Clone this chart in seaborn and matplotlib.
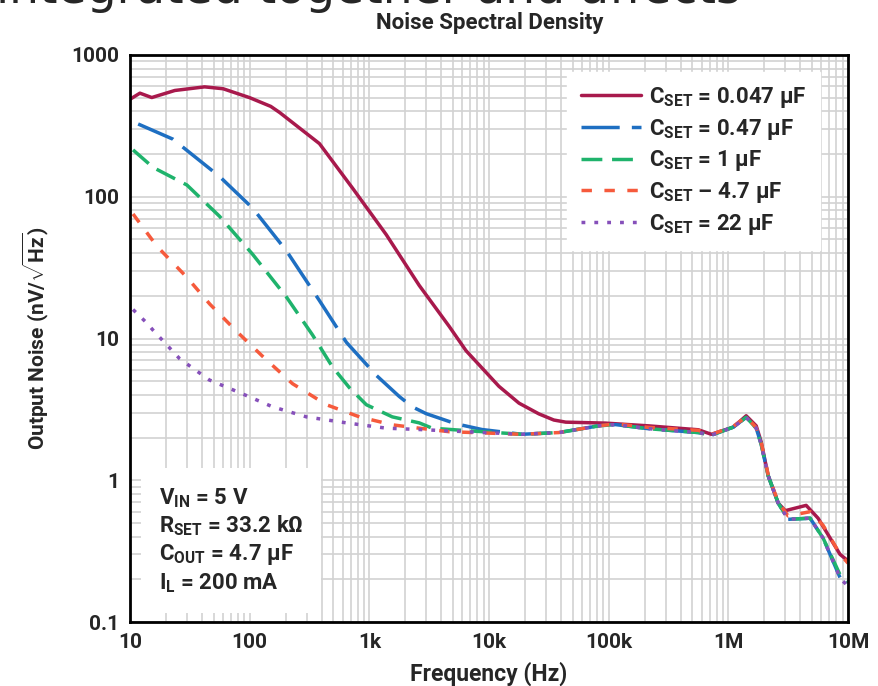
import numpy as np
import pandas as pd
import seaborn as sns
import matplotlib
matplotlib.use('Agg')
import matplotlib.pyplot as plt
from matplotlib.ticker import FixedLocator, LogLocator, NullFormatter

# values (Hz, nV/sqrt(Hz))
f_0047 = [10, 12.1, 15.2, 23.7, 42, 60, 100, 150, 178, 383, 724, 1385, 2610, 4640, 6430,
          12100, 17800, 26100, 34800, 43800, 94000, 215000, 562000, 721000,
          1.1e6, 1.41e6, 1.71e6, 1.88e6, 2.15e6, 2.61e6, 2.99e6, 4.47e6, 5.62e6, 8.58e6, 1e7]
n_0047 = [487, 538, 501, 562, 596, 578, 500, 434, 393, 237, 115, 54, 23.7, 12.2, 8.2,
          4.6, 3.5, 2.94, 2.66, 2.57, 2.53, 2.42, 2.27, 2.11,
          2.37, 2.85, 2.42, 1.87, 1.08, 0.69, 0.61, 0.665, 0.54, 0.30, 0.27]

f_047 = [11.7, 22.8, 56, 106, 203, 383, 643, 1143, 1778, 2280, 2985, 5310, 8740, 18800, 38300,
         82500, 114000, 215000, 562000, 721000,
         1.1e6, 1.41e6, 1.71e6, 1.88e6, 2.15e6, 2.61e6, 3.16e6, 4.82e6, 6.2e6, 8.7e6, 1e7]
n_047 = [326, 255, 139, 83, 41.5, 18.5, 9.4, 5.5, 3.9, 3.3, 2.95, 2.5, 2.28, 2.11, 2.17,
         2.42, 2.47, 2.31, 2.17, 2.08,
         2.37, 2.78, 2.33, 1.8, 1.08, 0.69, 0.53, 0.54, 0.39, 0.2, 0.18]

f_1 = [10.6, 15.6, 29.9, 56, 106, 203, 335, 492, 681, 944, 1556, 2610, 3350, 6430, 18800, 38300,
       82500, 114000, 215000, 562000, 721000,
       1.1e6, 1.41e6, 1.71e6, 1.88e6, 2.15e6, 2.61e6, 3.16e6, 4.82e6, 6.2e6, 8.7e6, 1e7]
n_1 = [214, 161, 121, 72.8, 39.2, 19.6, 10.6, 6.3, 4.5, 3.41, 2.8, 2.54, 2.33, 2.24, 2.11, 2.17,
       2.42, 2.47, 2.31, 2.17, 2.08,
       2.37, 2.78, 2.33, 1.8, 1.08, 0.69, 0.53, 0.54, 0.39, 0.21, 0.19]

f_47 = [10.6, 16.8, 29.9, 46.4, 78, 128, 228, 438, 826, 1556, 2610, 4640, 18800, 38300,
        82500, 114000, 215000, 562000, 721000,
        1.1e6, 1.41e6, 1.71e6, 1.88e6, 2.15e6, 2.61e6, 3.16e6, 4.82e6, 6.2e6, 8.6e6, 1e7]
n_47 = [75.6, 44.7, 27, 17.5, 11.2, 7.5, 4.8, 3.41, 2.8, 2.46, 2.33, 2.2, 2.11, 2.17,
        2.42, 2.5, 2.36, 2.25, 2.1,
        2.4, 2.8, 2.35, 1.85, 1.1, 0.7, 0.56, 0.6, 0.48, 0.3, 0.26]

f_22 = [10.6, 13.9, 15.5, 26, 46, 83, 155, 298, 643, 1385, 2610, 6430, 18800, 38300,
        82500, 114000, 215000, 562000, 721000,
        1.1e6, 1.41e6, 1.71e6, 1.88e6, 2.15e6, 2.61e6, 3.16e6, 4.82e6, 6.2e6, 8.7e6, 1e7]
n_22 = [16, 12.8, 11.5, 7.2, 5.1, 4.14, 3.3, 2.8, 2.54, 2.33, 2.28, 2.2, 2.11, 2.17,
        2.42, 2.47, 2.31, 2.17, 2.08,
        2.37, 2.78, 2.33, 1.8, 1.08, 0.69, 0.53, 0.54, 0.39, 0.2, 0.18]

labels = [r'C$_\mathrm{SET}$ = 0.047 µF', r'C$_\mathrm{SET}$ = 0.47 µF', r'C$_\mathrm{SET}$ = 1 µF',
          r'C$_\mathrm{SET}$ – 4.7 µF', r'C$_\mathrm{SET}$ = 22 µF']
x_ticks = [10, 100, 1e3, 1e4, 1e5, 1e6, 1e7]
x_ticklabels = ['10', '100', '1k', '10k', '100k', '1M', '10M']
y_ticks = [0.1, 1, 10, 100, 1000]
y_ticklabels = ['0.1', '1', '10', '100', '1000']

series = [(f_0047, n_0047), (f_047, n_047), (f_1, n_1), (f_47, n_47), (f_22, n_22)]
colors = ['#A8194C', '#1E6FC2', '#1FB36C', '#F65A3C', '#8650BA']
styles = ['-', (0, (11, 3.5)), (0, (6, 2.8)), (0, (3, 3.6)), (0, (1.1, 2.6))]

sns.set_style('white')
FONT = ['Roboto', 'DejaVu Sans']
plt.rcParams['font.family'] = FONT
plt.rcParams['font.weight'] = 'bold'
plt.rcParams['mathtext.fontset'] = 'custom'
plt.rcParams['mathtext.rm'] = 'Roboto:bold'
plt.rcParams['mathtext.bf'] = 'Roboto:bold'
plt.rcParams['mathtext.it'] = 'Roboto:bold'

fig = plt.figure(figsize=(8.79, 6.86), dpi=100)
ax = fig.add_axes([130 / 879, 1 - 622 / 686, 718 / 879, 567 / 686])

for (f, n), lab, c, ls in zip(series, labels, colors, styles):
    df = pd.DataFrame({'Frequency': f, 'Noise': n})
    sns.lineplot(data=df, x='Frequency', y='Noise', ax=ax, color=c, linewidth=2.5,
                 linestyle=ls, label=lab, sort=False, estimator=None,
                 dash_capstyle='butt', zorder=3)

ax.set_xscale('log')
ax.set_yscale('log')
ax.set_xlim(10, 1e7)
ax.set_ylim(0.1, 1000)
ax.xaxis.set_major_locator(FixedLocator(x_ticks))
ax.set_xticklabels(x_ticklabels)
ax.xaxis.set_minor_locator(LogLocator(base=10, subs=np.arange(2, 10)))
ax.xaxis.set_minor_formatter(NullFormatter())
ax.yaxis.set_major_locator(FixedLocator(y_ticks))
ax.set_yticklabels(y_ticklabels)
ax.yaxis.set_minor_locator(LogLocator(base=10, subs=np.arange(2, 10)))
ax.yaxis.set_minor_formatter(NullFormatter())
ax.grid(True, which='both', color='#d2d2d2', linewidth=1.2)
ax.tick_params(which='both', length=0, labelsize=15, pad=8)
for lbl in ax.get_xticklabels() + ax.get_yticklabels():
    lbl.set_fontweight('bold')
for s in ax.spines.values():
    s.set_color('black')
    s.set_linewidth(2)
    s.set_zorder(5)

ax.set_xlabel('Frequency (Hz)', fontsize=16.5, fontweight='bold', labelpad=7)
ax.set_ylabel(r'Output Noise (nV/$\sqrt{\mathrm{Hz}}$)', fontsize=15, fontweight='bold', labelpad=14)

leg = ax.legend(loc='upper right', bbox_to_anchor=(0.977, 0.99), frameon=True, fancybox=False,
                edgecolor='white', framealpha=1, fontsize=16, handlelength=2.7,
                handletextpad=0.4, labelspacing=0.3, borderpad=0.6)
for t in leg.get_texts():
    t.set_fontweight('bold')

ax.text(0.04, 0.24, 'V$_\\mathrm{IN}$ = 5 V\nR$_\\mathrm{SET}$ = 33.2 kΩ\nC$_\\mathrm{OUT}$ = 4.7 µF\nI$_\\mathrm{L}$ = 200 mA',
        transform=ax.transAxes, fontsize=16, fontweight='bold', va='top', ha='left',
        linespacing=1.22, zorder=4,
        bbox=dict(boxstyle='square,pad=0.8', facecolor='white', edgecolor='none'))

fig.text(0.557, 1 - 23 / 686, 'Noise Spectral Density', ha='center', va='center',
         fontsize=16, fontweight='bold')
fig.text(-0.004, 1 - 3 / 686, 'integrated together and affects', ha='left', va='baseline',
         fontsize=34, fontweight='normal', family=['DejaVu Sans'])

fig.savefig('out.png', dpi=100)
